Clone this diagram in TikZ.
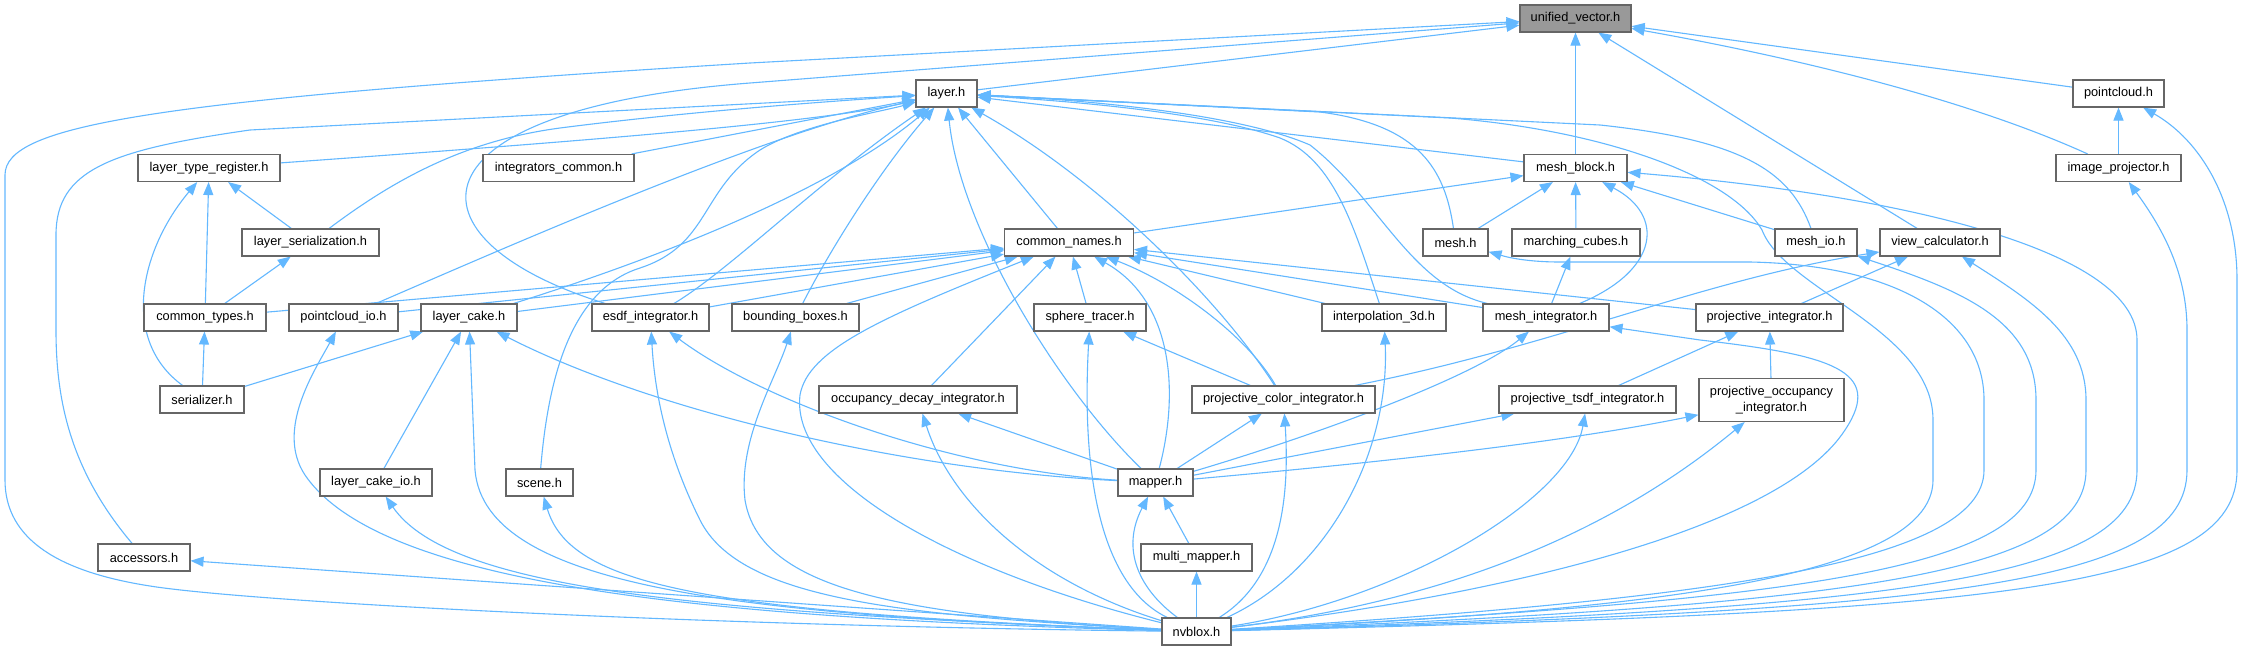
\documentclass[tikz,border=0pt]{standalone}
\usepackage{fontspec}
\setmainfont{Liberation Sans}
\usetikzlibrary{arrows.meta}
\definecolor{edgec}{HTML}{63B8FF}
\definecolor{nodeb}{HTML}{666666}
\definecolor{rootf}{HTML}{999999}
\pgfdeclarelayer{bg}
\pgfsetlayers{bg,main}
\begin{document}
\begin{tikzpicture}[x=1pt,y=-1pt,
  nd/.style={draw=nodeb, line width=1.1pt, fill=white, minimum height=27pt, inner sep=0pt, font=\fontsize{12.8}{16}\selectfont},
  e/.style={draw=edgec, line width=1.1pt, -{Triangle[length=13pt,width=10pt]}}]
\useasboundingbox (0,0) rectangle (2243,651);
% nodes
\node[nd, fill=rootf, minimum width=111pt] (uv) at (1575.5,18.5) {unified\_vector.h};
\node[nd, minimum width=61pt] (layer) at (946.5,93.5) {layer.h};
\node[nd, minimum width=91pt] (pc) at (2118.5,93.5) {pointcloud.h};
\node[nd, minimum width=142pt] (ltr) at (209,168) {layer\_type\_register.h};
\node[nd, minimum width=151pt] (ic) at (558.5,168) {integrators\_common.h};
\node[nd, minimum width=103pt] (mb) at (1575.5,168) {mesh\_block.h};
\node[nd, minimum width=125pt] (ip) at (2118.5,168) {image\_projector.h};
\node[nd, minimum width=137pt] (ls) at (310.5,242.5) {layer\_serialization.h};
\node[nd, minimum width=129pt] (cn) at (1069,242.5) {common\_names.h};
\node[nd, minimum width=65pt] (mesh) at (1455.5,242.5) {mesh.h};
\node[nd, minimum width=128pt] (mc) at (1576,242.5) {marching\_cubes.h};
\node[nd, minimum width=82pt] (mio) at (1816,242.5) {mesh\_io.h};
\node[nd, minimum width=120pt] (vc) at (1940,242.5) {view\_calculator.h};
\node[nd, minimum width=122pt] (ct) at (205,317.5) {common\_types.h};
\node[nd, minimum width=109pt] (pio) at (343.5,317.5) {pointcloud\_io.h};
\node[nd, minimum width=96pt] (lc) at (469,317.5) {layer\_cake.h};
\node[nd, minimum width=117pt] (esdf) at (650.5,317.5) {esdf\_integrator.h};
\node[nd, minimum width=127pt] (bb) at (795.5,317.5) {bounding\_boxes.h};
\node[nd, minimum width=112pt] (st) at (1090,317.5) {sphere\_tracer.h};
\node[nd, minimum width=124pt] (i3d) at (1384,317.5) {interpolation\_3d.h};
\node[nd, minimum width=126pt] (mi) at (1546,317.5) {mesh\_integrator.h};
\node[nd, minimum width=147pt] (pi) at (1769.5,317.5) {projective\_integrator.h};
\node[nd, minimum width=84pt] (ser) at (202,399.5) {serializer.h};
\node[nd, minimum width=198pt] (odi) at (918,399.5) {occupancy\_decay\_integrator.h};
\node[nd, minimum width=183pt] (pci) at (1283.5,399.5) {projective\_color\_integrator.h};
\node[nd, minimum width=177pt] (pti) at (1587.5,399.5) {projective\_tsdf\_integrator.h};
\node[nd, minimum width=145pt, minimum height=43pt, align=center] (poi) at (1771.5,400) {projective\_occupancy\\\_integrator.h};
\node[nd, minimum width=112pt] (lcio) at (376,482.5) {layer\_cake\_io.h};
\node[nd, minimum width=67pt] (scene) at (539.5,482.5) {scene.h};
\node[nd, minimum width=75pt] (mapper) at (1155.5,482.5) {mapper.h};
\node[nd, minimum width=92pt] (acc) at (144,557.5) {accessors.h};
\node[nd, minimum width=111pt] (mm) at (1196.5,557.5) {multi\_mapper.h};
\node[nd, minimum width=69pt] (nv) at (1196.5,631.5) {nvblox.h};
\begin{pgfonlayer}{bg}
\fill[white] (0,0) rectangle (2243,651);
% into unified_vector.h
\draw[e] (layer) -- (uv);
\draw[e] (mb) -- (uv);
\draw[e] (pc) -- (uv);
\draw[e] (ip) .. controls (1980,105) and (1820,62) .. (uv);
\draw[e] (vc) -- (uv);
\draw[e] (esdf) .. controls (400,240) and (400,110) .. (750,83) -- (uv);
\draw[e] (nv) .. controls (700,626) and (250,602) .. (150,586) .. controls (60,572) and (5,540) .. (5,480) -- (5,175) .. controls (5,125) and (150,100) .. (750,63) -- (uv);
% into layer.h
\draw[e] (acc) .. controls (70,470) and (56,400) .. (56,330) -- (56,235) .. controls (56,170) and (110,150) .. (250,130) -- (layer);
\draw[e] (ltr) .. controls (600,140) and (820,122) .. (layer);
\draw[e] (ic) -- (layer);
\draw[e] (ls) .. controls (400,175) and (470,140) .. (560,128) .. controls (700,110) and (850,100) .. (layer);
\draw[e] (pio) .. controls (500,250) and (760,135) .. (layer);
\draw[e] (lc) .. controls (620,270) and (820,200) .. (layer);
\draw[e] (esdf) .. controls (730,270) and (820,180) .. (layer);
\draw[e] (bb) .. controls (830,250) and (880,170) .. (layer);
\draw[e] (scene) .. controls (548,380) and (570,290) .. (640,268) .. controls (710,245) and (700,190) .. (760,150) .. controls (800,125) and (880,112) .. (layer);
\draw[e] (mapper) .. controls (1060,390) and (960,230) .. (layer);
\draw[e] (cn) -- (layer);
\draw[e] (pci) .. controls (1220,300) and (1100,180) .. (layer);
\draw[e] (i3d) .. controls (1355,230) and (1335,160) .. (1280,138) .. controls (1200,110) and (1050,100) .. (layer);
\draw[e] (mi) .. controls (1410,285) and (1380,200) .. (1310,145) .. controls (1230,110) and (1050,98) .. (layer);
\draw[e] (mesh) .. controls (1445,170) and (1420,125) .. (1320,112) -- (layer);
\draw[e] (mio) .. controls (1790,170) and (1740,140) .. (1600,125) -- (layer);
\draw[e] (mb) -- (layer);
\draw[e] (nv) .. controls (1600,612) and (1933,585) .. (1933,480) -- (1933,420) .. controls (1933,330) and (1785,290) .. (1762,230) .. controls (1730,175) and (1600,130) .. (1450,118) -- (layer);
% into common_names.h
\draw[e] (ct) -- (cn);
\draw[e] (pio) -- (cn);
\draw[e] (lc) -- (cn);
\draw[e] (esdf) -- (cn);
\draw[e] (bb) -- (cn);
\draw[e] (odi) -- (cn);
\draw[e] (st) -- (cn);
\draw[e] (mapper) .. controls (1180,390) and (1172,300) .. (cn);
\draw[e] (pci) .. controls (1250,340) and (1180,285) .. (cn);
\draw[e] (i3d) -- (cn);
\draw[e] (mi) -- (cn);
\draw[e] (pi) -- (cn);
\draw[e] (nv) .. controls (950,570) and (790,480) .. (800,395) .. controls (808,350) and (880,318) .. (cn);
% left cluster
\draw[e] (ser) -- (ct);
\draw[e] (ser) .. controls (120,340) and (140,250) .. (ltr);
\draw[e] (ser) -- (lc);
\draw[e] (ct) -- (ltr);
\draw[e] (ct) -- (ls);
\draw[e] (ls) -- (ltr);
\draw[e] (lcio) -- (lc);
% mesh block cluster
\draw[e] (cn) -- (mb);
\draw[e] (mesh) -- (mb);
\draw[e] (mc) -- (mb);
\draw[e] (mio) -- (mb);
\draw[e] (mi) .. controls (1660,270) and (1665,215) .. (mb);
\draw[e] (mi) -- (mc);
% projective
\draw[e] (pi) -- (vc);
\draw[e] (pci) .. controls (1560,345) and (1700,280) .. (vc);
\draw[e] (pti) -- (pi);
\draw[e] (poi) -- (pi);
\draw[e] (ip) -- (pc);
\draw[e] (pci) -- (st);
% mapper
\draw[e] (mapper) .. controls (900,470) and (650,410) .. (lc);
\draw[e] (mapper) .. controls (950,470) and (760,400) .. (esdf);
\draw[e] (mapper) -- (odi);
\draw[e] (mapper) -- (pci);
\draw[e] (mapper) .. controls (1300,440) and (1470,380) .. (mi);
\draw[e] (mapper) -- (pti);
\draw[e] (mapper) .. controls (1350,465) and (1550,445) .. (poi);
\draw[e] (mm) -- (mapper);
% nvblox.h
\draw[e] (nv) -- (acc);
\draw[e] (nv) .. controls (700,618) and (380,585) .. (305,475) .. controls (275,430) and (315,370) .. (pio);
\draw[e] (nv) .. controls (700,612) and (450,590) .. (lcio);
\draw[e] (nv) .. controls (750,615) and (485,590) .. (475,470) -- (lc);
\draw[e] (nv) .. controls (700,612) and (570,585) .. (scene);
\draw[e] (nv) .. controls (900,615) and (740,600) .. (700,520) .. controls (670,460) and (655,400) .. (esdf);
\draw[e] (nv) .. controls (900,615) and (760,590) .. (745,500) .. controls (738,440) and (775,380) .. (bb);
\draw[e] (nv) .. controls (1030,580) and (950,500) .. (odi);
\draw[e] (nv) .. controls (1110,590) and (1080,500) .. (st);
\draw[e] (nv) .. controls (1140,590) and (1120,550) .. (mapper);
\draw[e] (nv) -- (mm);
\draw[e] (nv) .. controls (1280,580) and (1290,500) .. (pci);
\draw[e] (nv) .. controls (1330,570) and (1390,450) .. (i3d);
\draw[e] (nv) .. controls (1400,600) and (1570,500) .. (pti);
\draw[e] (nv) .. controls (1500,595) and (1650,500) .. (poi);
\draw[e] (nv) .. controls (1500,595) and (1780,530) .. (1845,430) .. controls (1885,370) and (1830,355) .. (1700,340) -- (mi);
\draw[e] (nv) .. controls (1700,600) and (1984,565) .. (1984,470) -- (1984,400) .. controls (1984,320) and (1900,265) .. (1750,262) -- (1560,262) .. controls (1520,262) and (1500,255) .. (mesh);
\draw[e] (nv) .. controls (1800,600) and (2036,570) .. (2036,470) -- (2036,400) .. controls (2036,320) and (1960,290) .. (mio);
\draw[e] (nv) .. controls (1850,605) and (2086,575) .. (2086,470) -- (2086,400) .. controls (2086,335) and (2030,300) .. (vc);
\draw[e] (nv) .. controls (1900,608) and (2137,580) .. (2137,470) -- (2137,340) .. controls (2137,250) and (1900,195) .. (mb);
\draw[e] (nv) .. controls (1950,610) and (2187,585) .. (2187,470) -- (2187,330) .. controls (2187,270) and (2160,225) .. (ip);
\draw[e] (nv) .. controls (2000,612) and (2237,590) .. (2237,470) -- (2237,280) .. controls (2237,200) and (2200,140) .. (pc);
\end{pgfonlayer}
\end{tikzpicture}
\end{document}
